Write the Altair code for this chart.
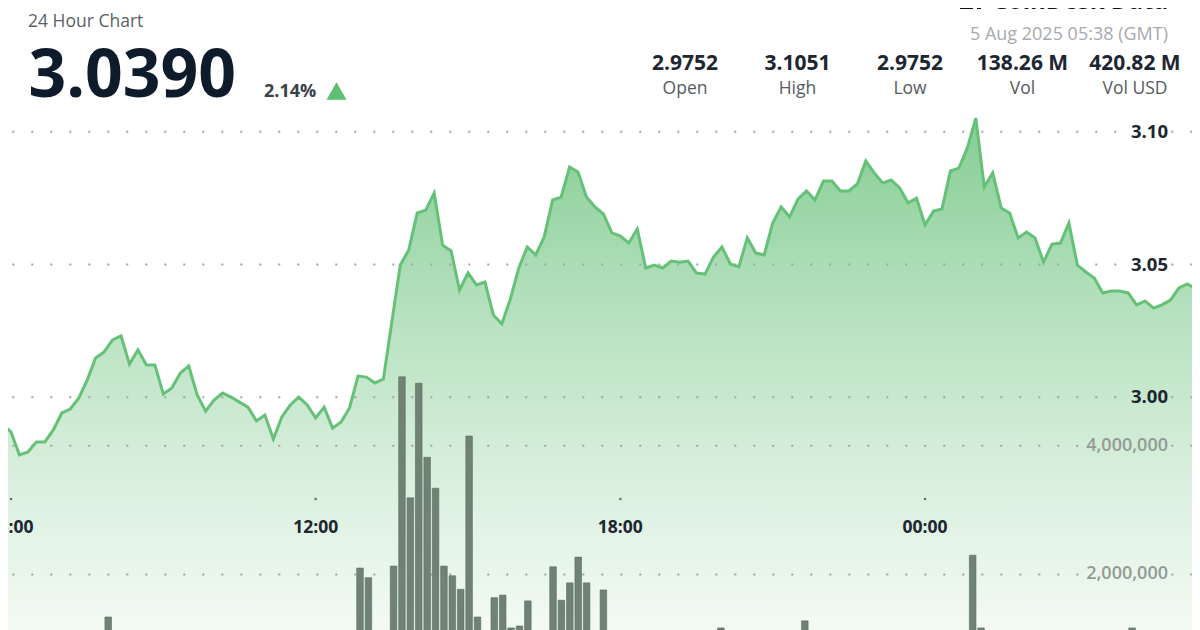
import altair as alt
import pandas as pd

# ---------------- data ----------------
pair = "XRP-USD"
subtitle = "24 Hour Chart"
last_price = "3.0390"
change_pct = "2.14%"
timestamp = "5 Aug 2025 05:38 (GMT)"
brand = "CoinDesk Data"

stat_values = ["2.9752", "3.1051", "2.9752", "138.26 M", "420.82 M"]
stat_labels = ["Open", "High", "Low", "Vol", "Vol USD"]

# 10-minute samples starting 05:50 GMT, 4 Aug 2025
start_hour = 5 + 50 / 60
price = [
    2.9899, 2.9869, 2.9783, 2.9794, 2.9832, 2.9832, 2.9877, 2.9941, 2.9956, 2.9997,
    3.0065, 3.0148, 3.0171, 3.0216, 3.0231, 3.0125, 3.0178, 3.0122, 3.0122, 3.0012,
    3.0035, 3.0091, 3.0118, 3.0009, 2.9948, 2.9990, 3.0016, 3.0001, 2.9982, 2.9963,
    2.9911, 2.9933, 2.9843, 2.9926, 2.9971, 3.0001, 2.9971, 2.9922, 2.9963, 2.9884,
    2.9907, 2.9960, 3.0080, 3.0076, 3.0054, 3.0069, 3.0284, 3.0498, 3.0555, 3.0694,
    3.0705, 3.0769, 3.0573, 3.0551, 3.0404, 3.0468, 3.0423, 3.0434, 3.0310, 3.0276,
    3.0370, 3.0487, 3.0566, 3.0536, 3.0604, 3.0743, 3.0754, 3.0867, 3.0848, 3.0754,
    3.0717, 3.0690, 3.0619, 3.0607, 3.0581, 3.0634, 3.0487, 3.0498, 3.0487, 3.0513,
    3.0509, 3.0513, 3.0468, 3.0464, 3.0528, 3.0566, 3.0502, 3.0491, 3.0600, 3.0543,
    3.0536, 3.0656, 3.0717, 3.0679, 3.0747, 3.0777, 3.0743, 3.0814, 3.0814, 3.0777,
    3.0777, 3.0803, 3.0890, 3.0845, 3.0807, 3.0818, 3.0788, 3.0732, 3.0750, 3.0649,
    3.0701, 3.0709, 3.0852, 3.0863, 3.0939, 3.1051, 3.0792, 3.0845, 3.0713, 3.0694,
    3.0600, 3.0622, 3.0600, 3.0509, 3.0577, 3.0581, 3.0656, 3.0498, 3.0472, 3.0449,
    3.0393, 3.0400, 3.0400, 3.0393, 3.0348, 3.0363, 3.0336, 3.0348, 3.0366, 3.0412,
    3.0427, 3.0408, 3.0390,
]
volume_m = [
    0.6, 0.9, 0.5, 0.4, 0.7, 0.5, 0.6, 0.8, 0.5, 0.7, 0.9, 0.8,
    1.34,
    0.7, 0.5, 0.6, 0.4, 0.5, 0.6, 0.8, 0.5, 0.4, 0.6, 0.7, 0.5, 0.4, 0.3, 0.5,
    0.6, 0.4, 0.5, 0.7, 0.6, 0.4, 0.5, 0.6, 0.5, 0.7, 0.6, 0.5, 0.8, 0.9,
    2.10, 1.95, 0.9, 1.0, 2.13, 5.07, 3.19, 4.97, 3.82, 3.34,
    2.13, 1.98, 1.77, 4.15, 1.34, 1.0, 1.64, 1.68, 1.17, 1.20,
    1.59, 0.9, 1.05, 2.12, 1.60, 1.87, 2.27, 1.87, 0.95, 1.76,
    0.8, 0.9, 0.7, 0.6, 0.8, 0.7, 0.5, 0.6, 0.9, 0.7, 0.6, 0.5, 0.8,
    1.17,
    0.6, 0.7, 0.9, 0.6, 0.5, 0.8, 0.9, 0.7, 1.0,
    1.28,
    0.8, 0.6, 0.7, 0.5, 0.6, 0.7, 0.9, 0.6, 0.5, 0.4, 0.6, 0.7, 0.5, 0.8, 0.6,
    0.5, 0.7, 0.8, 0.9,
    2.30, 1.17,
    0.9, 0.7, 0.8, 0.6, 0.7, 0.5, 0.8, 0.6, 0.7, 0.9, 0.8, 0.6, 0.7, 0.5, 0.6,
    0.8, 0.7,
    1.17,
    0.8, 0.6, 0.7, 0.9, 0.6, 0.5, 0.7, 0.6,
]

price_ticks = [3.00, 3.05, 3.10]
price_tick_labels = ["3.00", "3.05", "3.10"]
volume_ticks = [2000000, 4000000]
volume_tick_labels = ["2,000,000", "4,000,000"]
time_ticks = [6, 12, 18, 24]
time_tick_labels = ["06:00", "12:00", "18:00", "00:00"]

df = pd.DataFrame({
    "hour": [start_hour + i / 6 for i in range(len(price))],
    "price": price,
    "volume": [v * 1e6 for v in volume_m],
})
ptick_df = pd.DataFrame({"v": price_ticks, "label": price_tick_labels})
vtick_df = pd.DataFrame({"v": volume_ticks, "label": volume_tick_labels})
ttick_df = pd.DataFrame({"hour": time_ticks, "label": time_tick_labels})
stats_df = pd.DataFrame({"value": stat_values, "label": stat_labels})

# ---------------- scales ----------------
FONT = "Open Sans"
W, H = 1200, 630
xs = alt.Scale(domain=[5.7834, 29.415], nice=False, zero=False)
ps = alt.Scale(domain=[2.91239, 3.14959], nice=False, zero=False)
vs = alt.Scale(domain=[1.138e6, 10.921e6], nice=False, zero=False)

X = alt.X("hour:Q", scale=xs, axis=None)
one = alt.Data(values=[{}])

area = alt.Chart(df).mark_area(
    fill=alt.Gradient(
        gradient="linear",
        stops=[
            alt.GradientStop(color="#86cd94", offset=0),
            alt.GradientStop(color="#b6e1bf", offset=0.38),
            alt.GradientStop(color="#dbf0df", offset=0.72),
            alt.GradientStop(color="#f3faf4", offset=1),
        ],
        x1=0, x2=0, y1=0, y2=1,
    ),
    clip=True,
).encode(x=X, y=alt.Y("price:Q", scale=ps, axis=None), y2=alt.datum(2.91239))

dot = dict(strokeDash=[2, 17], strokeWidth=2, color="#a3a3a3")
pgrid_a = alt.Chart(ptick_df).mark_rule(**dot).encode(
    y=alt.Y("v:Q", scale=ps, axis=None), x=alt.value(12.3), x2=alt.value(1124))
pgrid_b = alt.Chart(ptick_df).mark_rule(**dot).encode(
    y=alt.Y("v:Q", scale=ps, axis=None), x=alt.value(1171.3), x2=alt.value(1200))
vgrid_a = alt.Chart(vtick_df).mark_rule(**dot).encode(
    y=alt.Y("v:Q", scale=vs, axis=None), x=alt.value(12.3), x2=alt.value(1080))
vgrid_b = alt.Chart(vtick_df).mark_rule(**dot).encode(
    y=alt.Y("v:Q", scale=vs, axis=None), x=alt.value(1171.3), x2=alt.value(1200))

bars = alt.Chart(df).mark_bar(
    width=6.6, color="#708273", stroke="#5d6c5f", strokeWidth=0.6, clip=True
).encode(x=X, y=alt.Y("volume:Q", scale=vs, axis=None), y2=alt.datum(0))

line = alt.Chart(df).mark_line(color="#66c178", strokeWidth=3).encode(
    x=X, y=alt.Y("price:Q", scale=ps, axis=None))

plabels = alt.Chart(ptick_df).mark_text(
    font=FONT, fontSize=18.5, fontWeight="bold", color="#1d2631", align="right", baseline="middle"
).encode(y=alt.Y("v:Q", scale=ps, axis=None), x=alt.value(1168), text="label:N")
vlabels = alt.Chart(vtick_df).mark_text(
    font=FONT, fontSize=18, fontWeight=600, color="#939b95", align="right", baseline="middle"
).encode(y=alt.Y("v:Q", scale=vs, axis=None), x=alt.value(1168), text="label:N")

tticks = alt.Chart(ttick_df).mark_square(size=5, color="#6a6a6a", opacity=1).encode(
    x=X, y=alt.value(499))
tlabels = alt.Chart(ttick_df).mark_text(
    font=FONT, fontSize=17.5, fontWeight="bold", color="#1d2631", align="center", baseline="middle"
).encode(x=X, y=alt.value(527.5), text="label:N")

green_bar = alt.Chart(one).mark_rect(color="#62c074").encode(
    x=alt.value(0), x2=alt.value(6), y=alt.value(0), y2=alt.value(H))

def txt(s, x, y, size, weight="normal", color="#1d2631", align="left"):
    return alt.Chart(pd.DataFrame({"t": [s]})).mark_text(
        font=FONT, fontSize=size, fontWeight=weight, color=color, align=align, baseline="alphabetic"
    ).encode(x=alt.value(x), y=alt.value(y), text="t:N")

title = txt(pair, 28, 5, 34, "bold", "#0d1b2a")
sub = txt(subtitle, 28, 26.5, 17.5, "normal", "#5b6168")
big = txt(last_price, 28.5, 97, 66, "bold", "#0d1b2a")
chg = txt(change_pct, 264, 97, 18, "bold", "#3a4047")
tri = alt.Chart(one).mark_point(shape="triangle-up", size=400, filled=True, color="#5dbf70", opacity=1).encode(
    x=alt.value(336.5), y=alt.value(91))
logo = txt(brand, 1168, 9, 24, "bold", "#111111", "right")
icon_a = alt.Chart(one).mark_rect(color="#111111").encode(
    x=alt.value(960), x2=alt.value(963), y=alt.value(0), y2=alt.value(9))
icon_b = alt.Chart(one).mark_rect(color="#111111").encode(
    x=alt.value(960), x2=alt.value(973), y=alt.value(6), y2=alt.value(9))
icon_c = alt.Chart(one).mark_rect(color="#111111").encode(
    x=alt.value(977), x2=alt.value(981), y=alt.value(5), y2=alt.value(9))
stamp = txt(timestamp, 1168, 40, 18, "normal", "#a6aaae", "right")

sx = alt.X("label:N", scale=alt.Scale(type="point", domain=stat_labels, range=[685, 1135], padding=0), axis=None)
svals = alt.Chart(stats_df).mark_text(
    font=FONT, fontSize=21, fontWeight="bold", color="#1d2631", align="center", baseline="alphabetic"
).encode(x=sx, y=alt.value(70), text="value:N")
slabs = alt.Chart(stats_df).mark_text(
    font=FONT, fontSize=17.5, color="#555b62", align="center", baseline="alphabetic"
).encode(x=sx, y=alt.value(94), text="label:N")

chart = alt.layer(
    area, pgrid_a, pgrid_b, vgrid_a, vgrid_b, bars, line,
    plabels, vlabels, tticks, tlabels,
    green_bar, title, sub, big, chg, tri, logo, icon_a, icon_b, icon_c, stamp,
    svals, slabs,
).resolve_scale(x="independent", y="independent").properties(
    width=W, height=H,
    autosize=alt.AutoSizeParams(type="none"),
    padding={"left": -8, "top": -8, "right": -8, "bottom": 0},
    background="white",
).configure_view(stroke=None)

chart.save("out.html", embed_options={"renderer": "svg", "actions": False})
